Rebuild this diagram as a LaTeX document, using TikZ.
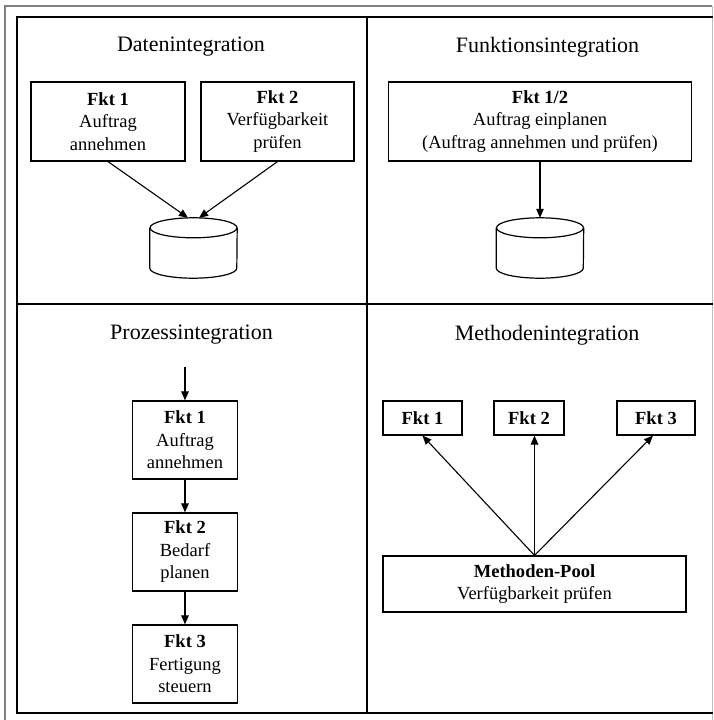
\documentclass[tikz,border=0pt]{standalone}
\usepackage{fontspec}
\setmainfont{Liberation Serif}
\usetikzlibrary{arrows.meta}

\tikzset{
  fkt/.style={draw, line width=1.2pt, align=center, inner sep=0pt,
    font=\fontsize{18.5}{22.5}\selectfont},
  quadTitle/.style={font=\fontsize{22}{26}\selectfont},
  db/.style={inner sep=0pt, minimum width=87pt, minimum height=60pt},
  dbLine/.style={line width=1.2pt},
  flow/.style={-{Triangle[length=9pt,width=7.5pt]}, line width=1.1pt}
}

\begin{document}
\begin{tikzpicture}[x=1pt,y=-1pt]
\useasboundingbox (0,0) rectangle (713,720);
% frame
\draw[gray, line width=1.5pt] (5,720) -- (5,6) -- (712,6);
\draw[gray!50, line width=1pt] (712,6) -- (712,720);
\draw[line width=1.2pt] (713,17) -- (17,17) -- (17,713) -- (713,713);
\draw[line width=1.2pt] (367,17) -- (367,713);
\draw[line width=1.2pt] (17,304) -- (713,304);

% Datenintegration
\node[quadTitle] (tDaten) at (191,47) {Datenintegration};
\node[fkt, minimum width=154pt, minimum height=79pt] (dFkt1) at (108,121.5) {\textbf{Fkt 1}\\Auftrag\\annehmen};
\node[fkt, minimum width=153pt, minimum height=79pt] (dFkt2) at (277.5,121.5) {\textbf{Fkt 2}\\Verfügbarkeit\\prüfen};
\node[db] (dDb) at (193.5,248) {};
\draw[flow] (dFkt1.south) -- ([xshift=-5.5pt]dDb.north);
\draw[flow] (dFkt2.south) -- ([xshift=5.5pt]dDb.north);

% Funktionsintegration
\node[quadTitle] (tFunktion) at (547.5,47) {Funktionsintegration};
\node[fkt, minimum width=303pt, minimum height=79pt] (fFkt) at (540,121.5) {\textbf{Fkt 1/2}\\Auftrag einplanen\\(Auftrag annehmen und prüfen)};
\node[db] (fDb) at (540,248) {};
\draw[flow] (fFkt.south) -- (fDb.north);

% Datenbank-Zylinder
\foreach \db in {dDb,fDb} {
  \draw[dbLine] ([yshift=-10pt]\db.north) ellipse [x radius=43.5, y radius=10];
  \draw[dbLine] ([yshift=-10pt]\db.north west) -- ([yshift=10pt]\db.south west)
    arc [start angle=180, end angle=0, x radius=43.5, y radius=10]
    -- ([yshift=-10pt]\db.north east);
}

% Prozessintegration
\node[quadTitle] (tProzess) at (191.5,335) {Prozessintegration};
\coordinate (pStart) at (185,367);
\node[fkt, minimum width=105pt, minimum height=78pt] (pFkt1) at (185,440) {\textbf{Fkt 1}\\Auftrag\\annehmen};
\node[fkt, minimum width=105pt, minimum height=78pt] (pFkt2) at (185,552) {\textbf{Fkt 2}\\Bedarf\\planen};
\node[fkt, minimum width=105pt, minimum height=78pt] (pFkt3) at (185,664) {\textbf{Fkt 3}\\Fertigung\\steuern};
\draw[flow] (pStart) -- (pFkt1);
\draw[flow] (pFkt1) -- (pFkt2);
\draw[flow] (pFkt2) -- (pFkt3);

% Methodenintegration
\node[quadTitle] (tMethode) at (547,335) {Methodenintegration};
\node[fkt, minimum width=79pt, minimum height=34pt] (mFkt1) at (422.5,418) {\textbf{Fkt 1}};
\node[fkt, minimum width=70pt, minimum height=34pt] (mFkt2) at (529,418) {\textbf{Fkt 2}};
\node[fkt, minimum width=78pt, minimum height=34pt] (mFkt3) at (656,418) {\textbf{Fkt 3}};
\node[fkt, minimum width=303pt, minimum height=56pt] (mPool) at (534.5,584) {\textbf{Methoden-Pool}\\Verfügbarkeit prüfen};
\draw[flow] (mPool.north) -- (mFkt1.south);
\draw[flow] (mPool.north) -- (mPool.north |- mFkt2.south);
\draw[flow] (mPool.north) -- ([xshift=-3pt]mFkt3.south);
\end{tikzpicture}
\end{document}
